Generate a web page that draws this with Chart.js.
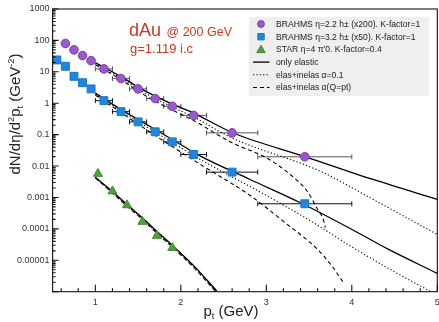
<!DOCTYPE html>
<html>
<head>
<meta charset="utf-8">
<script src="https://cdn.jsdelivr.net/npm/chart.js@4.4.0/dist/chart.umd.min.js"></script>
<style>
  body { margin: 0; background: #fff; }
  canvas { display: block; }
</style>
</head>
<body>
<canvas id="spectra" width="439" height="322"></canvas>
<script>
// BRAHMS eta=2.2 (x200)
const ptPurple = [0.65, 0.75, 0.85, 0.95, 1.1, 1.3, 1.5, 1.7, 1.9, 2.15, 2.6, 3.45];
const yPurple = [80, 50, 33, 22.7, 12.4, 6.1, 2.86, 1.41, 0.80, 0.41, 0.114, 0.0197];
const loPurple = [null, null, null, null, 1.0, 1.2, 1.4, 1.6, 1.8, 2.0, 2.3, 2.9];
const hiPurple = [null, null, null, null, 1.2, 1.4, 1.6, 1.8, 2.0, 2.3, 2.9, 4.0];

// BRAHMS eta=3.2 (x50)
const ptBlue = [0.55, 0.65, 0.75, 0.85, 0.95, 1.1, 1.3, 1.5, 1.7, 1.9, 2.15, 2.6, 3.45];
const yBlue = [23.9, 15.0, 7.2, 4.5, 2.86, 1.21, 0.54, 0.255, 0.123, 0.059, 0.0233, 0.0064, 0.00063];
const loBlue = [null, null, null, null, null, 1.0, 1.2, 1.4, 1.6, 1.8, 2.0, 2.3, 2.9];
const hiBlue = [null, null, null, null, null, 1.2, 1.4, 1.6, 1.8, 2.0, 2.3, 2.9, 4.0];

// STAR eta=4 pi0
const ptStar = [1.03, 1.2, 1.37, 1.55, 1.72, 1.9];
const yStar = [0.0057, 0.00158, 0.00057, 0.000169, 0.0000605, 0.000025];

// model curves
const xPurpleEl = [1.0, 1.3, 1.5, 1.7, 1.9, 2.15, 2.6, 3.45, 4.25, 5.0];
const yPurpleEl = [19.6, 7.03, 3.27, 1.69, 0.94, 0.486, 0.117, 0.0201, 0.00374, 0.000863];
const xPurpleA = [1.0, 1.3, 1.5, 1.7, 1.9, 2.15, 2.6, 3.63, 4.25, 5.0];
const yPurpleA = [18.2, 6.3, 2.82, 1.41, 0.755, 0.363, 0.078, 0.00686, 0.000863, 0.0000665];
const xPurpleQ = [1.0, 1.3, 1.5, 1.7, 1.9, 2.15, 2.6, 3.0, 3.28, 3.48, 3.6, 3.67, 3.69];
const yPurpleQ = [16.9, 5.65, 2.43, 1.17, 0.605, 0.281, 0.0548, 0.0183, 0.00538, 0.00155, 0.000414, 0.000186, 0.00011];

const xBlueEl = [1.0, 1.3, 1.5, 1.7, 1.9, 2.23, 2.81, 3.4, 3.98, 4.43, 5.0];
const yBlueEl = [2.10, 0.63, 0.303, 0.146, 0.0702, 0.0206, 0.00374, 0.000678, 0.000103, 0.0000222, 0.00000383];
const xBlueA = [1.0, 1.3, 1.5, 1.7, 1.9, 2.23, 3.0, 3.51, 3.99, 4.45, 4.92];
const yBlueA = [1.95, 0.562, 0.261, 0.121, 0.0561, 0.0161, 0.00116, 0.000185, 0.0000277, 0.0000051, 0.00000102];
const xBlueQ = [1.0, 1.3, 1.5, 1.7, 1.9, 2.23, 2.81, 3.2, 3.6, 3.78, 3.9];
const yBlueQ = [1.82, 0.505, 0.217, 0.0935, 0.0419, 0.0112, 0.00116, 0.000173, 0.0000222, 0.0000059, 0.00000198];

const xStarCurve = [1.0, 1.21, 1.37, 1.52, 1.72, 1.91, 2.17, 2.42];
const yStarEl = [0.00442, 0.001475, 0.000599, 0.000268, 0.000083, 0.0000283, 0.00000594, 0.00000105];
const yStarA = [0.0043, 0.00137, 0.000557, 0.000249, 0.0000772, 0.0000263, 0.0000055, 0.00000097];
const yStarQ = [0.0042, 0.0013, 0.000527, 0.000236, 0.000073, 0.0000249, 0.0000052, 0.00000092];

const xTicks = [];
for (let v = 0.6; v <= 5.001; v += 0.2) xTicks.push(Math.round(v * 10) / 10);
const yTicks = [];
for (let e = -6; e <= 3; e++) {
    for (let m = 1; m <= 9; m++) {
        const v = m * Math.pow(10, e);
        if (v <= 1000) yTicks.push(v);
    }
}

const FONT = '"Liberation Sans", Arial, Helvetica, sans-serif';
const zip = (xs, ys) => xs.map((x, i) => ({ x: x, y: ys[i] }));

const points = (label, xs, ys, style, fill, stroke, radius, lo, hi, barColor) => ({
    label: label,
    data: zip(xs, ys),
    showLine: false,
    pointStyle: style,
    pointRadius: radius,
    pointBackgroundColor: fill,
    pointBorderColor: stroke,
    pointBorderWidth: 1,
    xLo: lo,
    xHi: hi,
    barColor: barColor
});

const curve = (label, xs, ys, dash, width) => ({
    label: label,
    data: zip(xs, ys),
    showLine: true,
    borderColor: '#000',
    borderWidth: width,
    borderDash: dash,
    pointRadius: 0,
    cubicInterpolationMode: 'monotone'
});

const SOLID = [];
const DOTTED = [1.2, 2.2];
const DASHED = [4, 3];

const datasets = [
    points('BRAHMS η=2.2 h± (x200). K-factor=1', ptPurple, yPurple, 'circle', '#9b57cf', '#7440a8', 4.3, loPurple, hiPurple, '#555'),
    points('BRAHMS η=3.2 h± (x50). K-factor=1', ptBlue, yBlue, 'rect', '#1f86de', '#1a78c8', 5.6, loBlue, hiBlue, '#111'),
    points("STAR η=4 π'0. K-factor=0.4", ptStar, yStar, 'triangle', '#4ea13b', '#3f8a2e', 5.2, null, null, null),
    curve('only elastic', xPurpleEl, yPurpleEl, SOLID, 1.3),
    curve('elas+inelas α=0.1', xPurpleA, yPurpleA, DOTTED, 1.1),
    curve('elas+inelas α(Q=pt)', xPurpleQ, yPurpleQ, DASHED, 1.1),
    curve('only elastic η=3.2', xBlueEl, yBlueEl, SOLID, 1.3),
    curve('elas+inelas α=0.1 η=3.2', xBlueA, yBlueA, DOTTED, 1.1),
    curve('elas+inelas α(Q=pt) η=3.2', xBlueQ, yBlueQ, DASHED, 1.1),
    curve('only elastic STAR', xStarCurve, yStarEl, SOLID, 1.3),
    curve('elas+inelas α=0.1 STAR', xStarCurve, yStarA, DOTTED, 1.1),
    curve('elas+inelas α(Q=pt) STAR', xStarCurve, yStarQ, DASHED, 1.1)
];
const legendCount = 6;

function richWidth(ctx, parts, size) {
    let w = 0;
    parts.forEach(p => {
        ctx.font = (p.s ? size * 0.62 : size) + 'px ' + FONT;
        w += ctx.measureText(p.t).width;
    });
    return w;
}

function drawRich(ctx, parts, x0, size) {
    let x = x0;
    parts.forEach(p => {
        ctx.font = (p.s ? size * 0.62 : size) + 'px ' + FONT;
        const dy = p.s === 'sup' ? -size * 0.42 : p.s === 'sub' ? size * 0.22 : 0;
        ctx.fillText(p.t, x, dy);
        x += ctx.measureText(p.t).width;
    });
}

const yTitle = [
    { t: 'dN/dη/d' }, { t: '2', s: 'sup' }, { t: 'p' }, { t: 't', s: 'sub' },
    { t: ' (GeV' }, { t: '-2', s: 'sup' }, { t: ')' }
];
const xTitle = [{ t: 'p' }, { t: 't', s: 'sub' }, { t: ' (GeV)' }];

const decorations = {
    id: 'decorations',
    beforeDatasetsDraw(chart) {
        const { ctx, scales: { x, y } } = chart;
        ctx.save();
        ctx.lineWidth = 1;
        chart.data.datasets.forEach(ds => {
            if (!ds.xLo) return;
            ctx.strokeStyle = ds.barColor;
            ctx.beginPath();
            ds.data.forEach((p, i) => {
                if (ds.xLo[i] == null) return;
                const py = y.getPixelForValue(p.y);
                const x1 = x.getPixelForValue(ds.xLo[i]);
                const x2 = x.getPixelForValue(ds.xHi[i]);
                ctx.moveTo(x1, py); ctx.lineTo(x2, py);
                ctx.moveTo(x1, py - 2.5); ctx.lineTo(x1, py + 2.5);
                ctx.moveTo(x2, py - 2.5); ctx.lineTo(x2, py + 2.5);
            });
            ctx.stroke();
        });
        ctx.restore();
    },
    afterDraw(chart) {
        const { ctx, chartArea: a, scales: { x, y } } = chart;
        ctx.save();

        // frame and inward ticks
        ctx.strokeStyle = '#111';
        ctx.lineWidth = 1.1;
        ctx.strokeRect(a.left, a.top, a.right - a.left, a.bottom - a.top);
        ctx.beginPath();
        x.ticks.forEach(t => {
            const px = x.getPixelForValue(t.value);
            const len = Number.isInteger(t.value) ? 7 : 3.5;
            ctx.moveTo(px, a.bottom); ctx.lineTo(px, a.bottom - len);
        });
        y.ticks.forEach(t => {
            const py = y.getPixelForValue(t.value);
            const e = Math.log10(t.value);
            const len = Math.abs(e - Math.round(e)) < 1e-6 ? 6 : 3;
            ctx.moveTo(a.left, py); ctx.lineTo(a.left + len, py);
        });
        ctx.stroke();

        // axis titles
        ctx.fillStyle = '#222';
        ctx.textBaseline = 'alphabetic';
        ctx.textAlign = 'left';
        ctx.save();
        ctx.translate(20, 114);
        ctx.rotate(-Math.PI / 2);
        drawRich(ctx, yTitle, -richWidth(ctx, yTitle, 15) / 2, 15);
        ctx.restore();
        ctx.save();
        ctx.translate(231, 316);
        drawRich(ctx, xTitle, -richWidth(ctx, xTitle, 15) / 2, 15);
        ctx.restore();

        // annotation
        ctx.fillStyle = '#c8391e';
        ctx.font = '18px ' + FONT;
        ctx.fillText('dAu', 129, 36);
        ctx.font = '12.5px ' + FONT;
        ctx.fillText('@ 200 GeV', 166.5, 36);
        ctx.font = '13px ' + FONT;
        ctx.fillText('g=1.119 i.c', 130, 52.5);

        // legend
        ctx.fillStyle = '#efefef';
        ctx.fillRect(249, 17, 180, 79);
        ctx.font = '8.6px ' + FONT;
        ctx.textBaseline = 'middle';
        for (let i = 0; i < legendCount; i++) {
            const ds = chart.data.datasets[i];
            const cy = 24 + i * 12.7;
            const cx = 261;
            if (ds.showLine) {
                ctx.strokeStyle = ds.borderColor;
                ctx.lineWidth = ds.borderWidth;
                ctx.setLineDash(ds.borderDash);
                ctx.beginPath();
                ctx.moveTo(253, cy); ctx.lineTo(269.5, cy);
                ctx.stroke();
                ctx.setLineDash([]);
            } else {
                ctx.fillStyle = ds.pointBackgroundColor;
                ctx.strokeStyle = ds.pointBorderColor;
                ctx.lineWidth = 1;
                ctx.beginPath();
                if (ds.pointStyle === 'circle') {
                    ctx.arc(cx, cy, 3.4, 0, Math.PI * 2);
                } else if (ds.pointStyle === 'rect') {
                    ctx.rect(cx - 3.2, cy - 3.2, 6.4, 6.4);
                } else {
                    ctx.moveTo(cx, cy - 4.2);
                    ctx.lineTo(cx + 4.2, cy + 3.2);
                    ctx.lineTo(cx - 4.2, cy + 3.2);
                    ctx.closePath();
                }
                ctx.fill();
                ctx.stroke();
            }
            ctx.fillStyle = '#222';
            ctx.fillText(ds.label, 276, cy + 0.5);
        }
        ctx.restore();
    }
};

new Chart(document.getElementById('spectra'), {
    type: 'scatter',
    data: { datasets: datasets },
    options: {
        responsive: false,
        animation: false,
        events: [],
        layout: { autoPadding: false, padding: { left: 0, top: 9, right: 1.7, bottom: 0 } },
        plugins: {
            legend: { display: false },
            tooltip: { enabled: false }
        },
        scales: {
            x: {
                type: 'linear',
                min: 0.5,
                max: 5,
                grid: { display: false, drawTicks: false },
                border: { display: false },
                afterBuildTicks: scale => { scale.ticks = xTicks.map(v => ({ value: v })); },
                afterFit: scale => {
                    scale.height = 30.3;
                    scale.paddingLeft = 0;
                    scale.paddingRight = 0;
                },
                ticks: {
                    autoSkip: false,
                    maxRotation: 0,
                    padding: 5,
                    color: '#333',
                    font: { family: FONT, size: 9 },
                    callback: v => Number.isInteger(v) ? String(v) : ''
                }
            },
            y: {
                type: 'logarithmic',
                min: 1e-6,
                max: 1000,
                grid: { display: false, drawTicks: false },
                border: { display: false },
                afterBuildTicks: scale => { scale.ticks = yTicks.map(v => ({ value: v })); },
                afterFit: scale => {
                    scale.width = 52.6;
                    scale.paddingTop = 0;
                    scale.paddingBottom = 0;
                },
                ticks: {
                    autoSkip: false,
                    padding: 3,
                    color: '#333',
                    font: { family: FONT, size: 9 },
                    callback: v => {
                        const e = Math.round(Math.log10(v));
                        if (Math.abs(Math.log10(v) - e) > 1e-6 || e < -5) return '';
                        return e >= 0 ? String(Math.pow(10, e)) : Math.pow(10, e).toFixed(-e);
                    }
                }
            }
        }
    },
    plugins: [decorations]
});
</script>
</body>
</html>
